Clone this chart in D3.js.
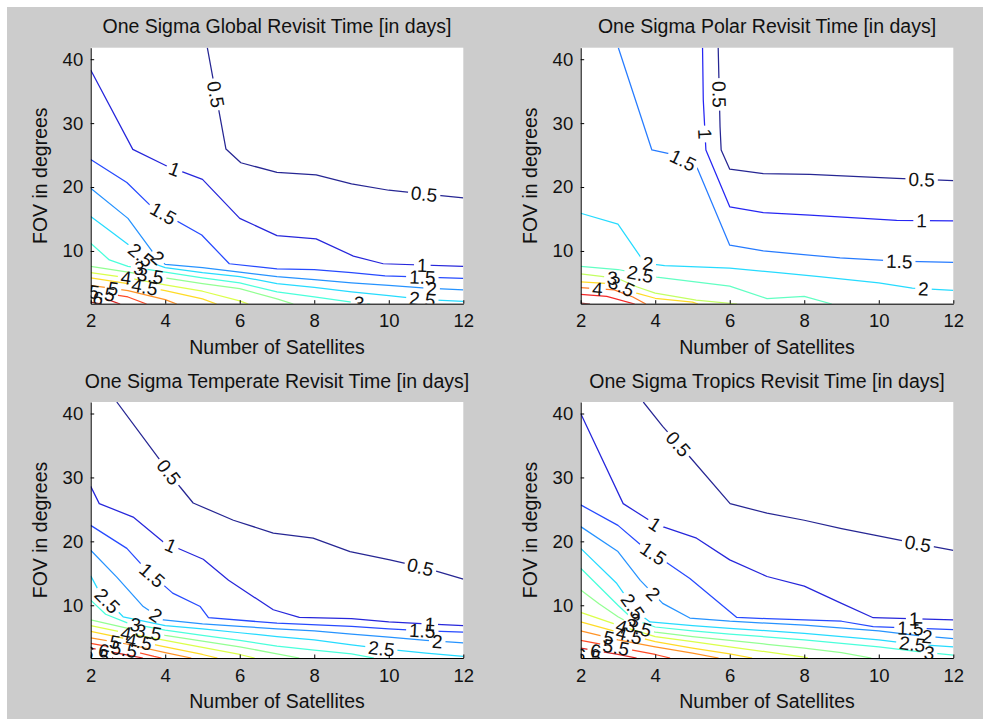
<!DOCTYPE html>
<html><head><meta charset="utf-8">
<script src="https://cdn.jsdelivr.net/npm/d3@7"></script>
<style>html,body{margin:0;padding:0;background:#fff;} svg{display:block;}</style>
</head><body><svg id="chart" width="983" height="719"></svg>
<script>
// ---------------- data ----------------
const titles = [
  "One Sigma Global Revisit Time [in days]",
  "One Sigma Polar Revisit Time [in days]",
  "One Sigma Temperate Revisit Time [in days]",
  "One Sigma Tropics Revisit Time [in days]"
];
const xLabel = "Number of Satellites";
const yLabel = "FOV in degrees";
const xTicks = [2, 4, 6, 8, 10, 12];
const yTicks = [10, 20, 30, 40];
const xDomain = [2, 12];
const yDomain = [1.75, 41.8];

// Global
const globalLevels = [0.5, 1, 1.5, 2, 2.5, 3, 3.5, 4, 4.5, 5, 5.5, 6, 6.5];
const globalColorRange = [0.5, 6.5];
const globalContours = [
  [[5.13,41.8],[5.63,25.95],[6.03,23.8],[7,22.3],[8.05,21.9],[9,20.5],[10,19.5],[11,18.9],[12,18.3]],
  [[2,38.3],[3.13,25.9],[4.04,23.3],[5,21.2],[6,15.1],[7,12.4],[8.05,11.9],[9.05,9.2],[9.85,8.0],[12,7.6]],
  [[2,24.3],[2.97,20.7],[3.64,16.9],[4.98,12.5],[5.72,8.0],[7,7.2],[8,7.1],[9,6.6],[9.9,6.1],[12,5.7]],
  [[2,19.8],[3,15.1],[3.73,9.3],[4,7.9],[5,7.4],[6,6.7],[7,6.0],[8,5.5],[9,5.0],[10,4.6],[11,4.2],[12,3.9]],
  [[2,15.4],[2.55,13.0],[3.05,10.8],[3.6,8.2],[4,7.4],[5,6.6],[6,6.0],[7,4.9],[8,4.3],[9,3.6],[10,3.0],[11,2.4],[12,2.1]],
  [[2,11.2],[2.5,8.6],[3,7.6],[4,6.7],[5,5.8],[6,5.0],[7,3.6],[8,2.8],[9,2.0],[9.5,1.7]],
  [[2,7.6],[3,6.7],[4,5.8],[5,4.9],[6,4.1],[7,2.5],[7.44,1.7]],
  [[2,6.6],[3,5.8],[4,4.7],[5,3.7],[6,2.2],[6.23,1.7]],
  [[2,5.8],[3,4.9],[4,3.8],[5,2.5],[5.38,1.7]],
  [[2,4.6],[3,3.8],[4,2.4],[4.31,1.7]],
  [[2,3.7],[3,2.8],[3.5,1.7]],
  [[2,2.8],[2.5,2.3],[2.79,1.7]],
  [[2,2.0],[2.3,1.7]]
];
const globalLabels = [
  [0.5,"y",34.5],[0.5,"x",10.95],[1,"x",4.25],[1,"x",10.9],[1.5,"x",3.95],[1.5,"x",10.9],
  [2,"x",3.8],[2,"x",11.15],[2.5,"x",3.35],[2.5,"x",10.9],[3,"x",9.2],[3,"x",3.3],
  [3.5,"x",3.6],[4,"x",2.95],[4.5,"x",3.45],[5,"x",2.6],[5.5,"x",2.3],[6,"x",2.2]
];

// Polar
const polarLevels = [0.5, 1, 1.5, 2, 2.5, 3, 3.5, 4, 4.5, 5];
const polarColorRange = [0.5, 5];
const polarContours = [
  [[5.69,41.8],[5.74,29.4],[5.77,25.8],[6,22.8],[6.9,22.1],[8.15,22.0],[10.48,21.35],[12,21.0]],
  [[5.27,41.8],[5.29,33.6],[5.36,25.8],[6,16.9],[6.9,16.0],[8.15,15.6],[10.48,14.8],[12,14.7]],
  [[3.01,41.8],[3.91,25.8],[4.4,25.2],[5.11,23.2],[6,10.9],[6.9,10.0],[8.96,8.9],[10.5,8.4],[12,8.2]],
  [[2,15.9],[3,14.2],[3.72,8.1],[4.25,7.7],[6,7.3],[7.3,6.6],[8.4,6.0],[10,5.0],[10.9,4.2],[12,3.85]],
  [[2,7.6],[3,7.1],[4.04,5.9],[6,4.5],[7,2.55],[8,2.9],[8.74,1.7]],
  [[2,6.4],[3,5.7],[3.5,4.4],[4,3.4],[5.1,2.3],[6.2,1.7]],
  [[2,5.15],[3,4.8],[3.5,3.4],[4,2.6],[5,2.0],[5.15,1.7]],
  [[2,4.25],[2.9,3.9],[3.4,2.8],[3.75,1.7]],
  [[2,3.2],[2.7,2.9],[3.45,1.7]],
  [[2,1.85],[2.25,1.7]]
];
const polarLabels = [
  [0.5,"y",34.5],[0.5,"x",11.15],[1,"y",28.3],[1,"x",11.15],[1.5,"x",4.75],[1.5,"x",10.55],
  [2,"x",3.8],[2,"x",11.2],[2.5,"x",3.6],[3,"x",2.85],[3.5,"x",3.1],[4,"x",2.45]
];

// Temperate
const temperateLevels = [0.5, 1, 1.5, 2, 2.5, 3, 3.5, 4, 4.5, 5, 5.5, 6, 6.5];
const temperateColorRange = [0.5, 6.5];
const temperateContours = [
  [[2.7,41.8],[3.86,32.7],[4.4,28.5],[4.75,26.0],[5.83,23.3],[6.9,21.3],[7.97,20.5],[8.96,18.4],[10.03,17.1],[11,15.8],[12,14.1]],
  [[2,28.6],[2.23,25.9],[3.14,23.8],[3.95,19.9],[5.02,17.2],[5.7,13.9],[6.9,9.3],[7.6,8.1],[9,7.9],[10,7.4],[11,7.1],[12,6.8]],
  [[2,22.5],[2.97,18.9],[3.5,15.5],[4.2,11.9],[4.94,9.8],[5.16,8.05],[7,7.2],[9,6.7],[10,6.3],[11,6.0],[12,5.8]],
  [[2,18.6],[2.7,14.4],[3.41,9.8],[3.95,7.7],[5,7.1],[6,6.7],[7,6.3],[8,6.0],[9,5.5],[10,5.0],[11,4.5],[12,4.1]],
  [[2,14.6],[2.25,11.9],[2.87,8.2],[4,6.8],[5,6.3],[6,5.7],[7,5.1],[8,4.6],[9,3.8],[10,3.1],[11,2.5],[12,2.0]],
  [[2,10.8],[2.4,8.6],[3,7.2],[4,6.1],[5,5.3],[6,4.5],[7,3.6],[8,3.0],[9,2.4],[9.6,1.75]],
  [[2,7.7],[3,6.4],[4,5.3],[5,4.4],[6,3.5],[7,2.4],[7.6,1.75]],
  [[2,6.8],[3,5.6],[4,4.5],[5,3.4],[6,2.3],[6.4,1.75]],
  [[2,5.9],[3,4.7],[4,3.5],[5,2.3],[5.4,1.75]],
  [[2,4.9],[3,3.9],[4,2.6],[4.7,1.75]],
  [[2,4.05],[3,3.0],[3.7,2.0],[3.9,1.75]],
  [[2,3.3],[3,2.2],[3.4,1.75]],
  [[2,2.5],[2.6,1.75]]
];
const temperateLabels = [
  [0.5,"x",4.1],[0.5,"x",10.85],[1,"x",4.15],[1,"x",11.1],[1.5,"x",3.65],[1.5,"x",10.9],
  [2,"x",3.75],[2,"x",11.3],[2.5,"x",2.45],[2.5,"x",9.8],[3,"x",3.2],[3.5,"x",3.55],
  [4,"x",2.95],[4.5,"x",3.3],[5,"x",2.65],[5.5,"x",2.9],[6,"x",2.35],[6.5,"x",2.15]
];

// Tropics
const tropicsLevels = [0.5, 1, 1.5, 2, 2.5, 3, 3.5, 4, 4.5, 5, 5.5, 6, 6.5];
const tropicsColorRange = [0.5, 6.5];
const tropicsContours = [
  [[3.68,41.8],[4.2,38],[4.93,33.2],[6.01,25.9],[7,24.4],[8,23.3],[9,22.0],[9.85,21.0],[11,19.7],[12,18.6]],
  [[2,40],[3.14,25.9],[4,22.7],[5.11,20.5],[6,17.1],[7,14.5],[8,13.0],[9,10.3],[9.85,8.05],[12,7.7]],
  [[2,25.7],[3,22.5],[3.6,19.5],[4.93,14.2],[6.19,8.1],[7,7.9],[9,7.5],[9.85,6.65],[12,6.2]],
  [[2,22.3],[3,18.4],[3.6,13.9],[4.2,10.3],[4.93,8.0],[6,7.5],[8,6.9],[10,6.0],[11,5.3],[12,4.8]],
  [[2,18.9],[2.97,13.4],[3.5,9.0],[3.86,7.4],[5,6.8],[6,6.4],[8,5.6],[10,4.6],[11,3.9],[12,3.5]],
  [[2,15.8],[2.5,12.9],[3,10.0],[3.4,7.8],[4,6.6],[5,6.0],[6,5.5],[8,4.6],[10,3.5],[11,2.8],[12,2.2]],
  [[2,12.4],[2.5,10.2],[3,8.2],[3.5,6.6],[4,5.8],[5,5.1],[6,4.5],[7,3.9],[8,3.3],[9,2.6],[9.8,1.75]],
  [[2,8.9],[3,6.9],[4,5.1],[5,4.3],[6,3.5],[7,2.7],[8,1.9],[8.1,1.75]],
  [[2,7.4],[3,5.8],[4,4.3],[5,3.3],[6,2.4],[6.6,1.75]],
  [[2,6.0],[3,4.6],[4,3.5],[5,2.5],[5.7,1.75]],
  [[2,4.5],[3,3.4],[4,2.3],[4.4,1.75]],
  [[2,3.3],[3,2.3],[3.5,1.75]],
  [[2,2.2],[2.6,1.75]]
];
const tropicsLabels = [
  [0.5,"x",4.62],[0.5,"x",11.05],[1,"x",4.0],[1,"x",10.95],[1.5,"x",3.95],[1.5,"x",10.85],
  [2,"x",3.95],[2,"x",11.3],[2.5,"x",3.4],[2.5,"x",10.9],[3,"x",11.35],[3,"x",3.45],
  [3.5,"x",3.55],[4,"x",3.1],[4.5,"x",3.3],[5,"x",2.75],[5.5,"x",2.95],[6,"x",2.4],[6.5,"x",2.2]
];

// ---------------- layout & drawing ----------------
const W = 983, H = 719;
const plotW = 372.6, plotH = 256;
const FONT = "'Liberation Sans', Arial, Helvetica, sans-serif";
const panels = [
  {title: titles[0], levels: globalLevels, contours: globalContours, labels: globalLabels, crange: globalColorRange, left: 90.7, top: 47.7},
  {title: titles[1], levels: polarLevels, contours: polarContours, labels: polarLabels, crange: polarColorRange, left: 580.7, top: 47.7},
  {title: titles[2], levels: temperateLevels, contours: temperateContours, labels: temperateLabels, crange: temperateColorRange, left: 90.7, top: 402},
  {title: titles[3], levels: tropicsLevels, contours: tropicsContours, labels: tropicsLabels, crange: tropicsColorRange, left: 580.7, top: 402}
];

function jet(t) {
  const c = v => Math.max(0, Math.min(1, v));
  const r = c(1.5 - Math.abs(4 * t - 3));
  const g = c(1.5 - Math.abs(4 * t - 2));
  const b = c(1.5 - Math.abs(4 * t - 1));
  // slight lightening to mimic the anti-aliased thin lines of the original
  const m = v => Math.round((v * 0.85 + 0.15) * 255);
  return d3.rgb(m(r), m(g), m(b)).formatHex();
}

function locate(pts, axis, val, xs, ys) {
  const k = axis === "x" ? 0 : 1;
  for (let i = 0; i < pts.length - 1; i++) {
    const a = pts[i], b = pts[i + 1];
    const lo = Math.min(a[k], b[k]), hi = Math.max(a[k], b[k]);
    if (val >= lo && val <= hi && hi > lo) {
      const f = (val - a[k]) / (b[k] - a[k]);
      const px = xs(a[0] + f * (b[0] - a[0]));
      const py = ys(a[1] + f * (b[1] - a[1]));
      let ang = Math.atan2(ys(b[1]) - ys(a[1]), xs(b[0]) - xs(a[0])) * 180 / Math.PI;
      if (ang > 90) ang -= 180;
      if (ang < -90) ang += 180;
      return {px, py, ang};
    }
  }
  return null;
}

const svg = d3.select("#chart");
const defs = svg.append("defs");
svg.append("rect").attr("x", 0).attr("y", 0).attr("width", W).attr("height", H).attr("fill", "#ffffff");
svg.append("rect").attr("x", 7).attr("y", 7).attr("width", W - 7).attr("height", H - 7).attr("fill", "#cccccc");

panels.forEach((p, i) => {
  const xs = d3.scaleLinear().domain(xDomain).range([p.left, p.left + plotW]);
  const ys = d3.scaleLinear().domain(yDomain).range([p.top + plotH, p.top]);
  const color = v => jet((v - p.crange[0]) / (p.crange[1] - p.crange[0]));

  svg.append("rect").attr("x", p.left).attr("y", p.top).attr("width", plotW).attr("height", plotH).attr("fill", "#ffffff");

  defs.append("clipPath").attr("id", "clip" + i)
    .append("rect").attr("x", p.left).attr("y", p.top).attr("width", plotW).attr("height", plotH);

  const g = svg.append("g").attr("clip-path", `url(#clip${i})`);
  const lineG = g.append("g");
  const labG = g.append("g");
  const line = d3.line().x(d => xs(d[0])).y(d => ys(d[1]));

  p.levels.forEach((lev, j) => {
    const pts = p.contours[j];
    const maskId = `mask${i}_${j}`;
    const mask = defs.append("mask").attr("id", maskId).attr("maskUnits", "userSpaceOnUse")
      .attr("x", 0).attr("y", 0).attr("width", W).attr("height", H);
    mask.append("rect").attr("x", 0).attr("y", 0).attr("width", W).attr("height", H).attr("fill", "white");

    p.labels.filter(l => l[0] === lev).forEach(l => {
      const L = locate(pts, l[1], l[2], xs, ys);
      if (!L) return;
      const t = labG.append("text")
        .attr("transform", `translate(${L.px},${L.py}) rotate(${L.ang})`)
        .attr("text-anchor", "middle")
        .attr("dy", "0.36em")
        .attr("font-family", FONT)
        .attr("font-size", 19)
        .attr("fill", "#111")
        .text(String(lev));
      const w = t.node().getComputedTextLength() + 6;
      const h = 14;
      mask.append("rect").attr("x", -w / 2).attr("y", -h / 2).attr("width", w).attr("height", h)
        .attr("transform", `translate(${L.px},${L.py}) rotate(${L.ang})`).attr("fill", "black");
    });

    lineG.append("path").attr("d", line(pts)).attr("fill", "none")
      .attr("stroke", color(lev)).attr("stroke-width", 1.25).attr("stroke-linejoin", "round")
      .attr("mask", `url(#${maskId})`);
  });

  // axes
  const ax = svg.append("g").attr("transform", `translate(0,${p.top + plotH})`)
    .call(d3.axisBottom(xs).tickValues(xTicks).tickSizeInner(-3.5).tickSizeOuter(0).tickPadding(10.4));
  const ay = svg.append("g").attr("transform", `translate(${p.left},0)`)
    .call(d3.axisLeft(ys).tickValues(yTicks).tickSizeInner(-3.5).tickSizeOuter(0).tickPadding(7.5));
  [ax, ay].forEach(a => {
    a.attr("font-family", FONT).attr("font-size", 18.5);
    a.select(".domain").attr("stroke", "#000").attr("stroke-width", 1);
    a.selectAll(".tick line").attr("stroke", "#000");
    a.selectAll(".tick text").attr("fill", "#111");
  });

  // title
  svg.append("text").attr("x", p.left + plotW / 2).attr("y", p.top - 14.3)
    .attr("text-anchor", "middle").attr("font-family", FONT).attr("font-size", 19.5)
    .attr("fill", "#111").text(p.title);
  // x label
  svg.append("text").attr("x", p.left + plotW / 2).attr("y", p.top + plotH + 50.3)
    .attr("text-anchor", "middle").attr("font-family", FONT).attr("font-size", 19.5)
    .attr("fill", "#111").text(xLabel);
  // y label
  svg.append("text").attr("transform", `translate(${p.left - 43.7},${p.top + plotH / 2}) rotate(-90)`)
    .attr("text-anchor", "middle").attr("font-family", FONT).attr("font-size", 19.5)
    .attr("fill", "#111").text(yLabel);
});
</script>
</body></html>
